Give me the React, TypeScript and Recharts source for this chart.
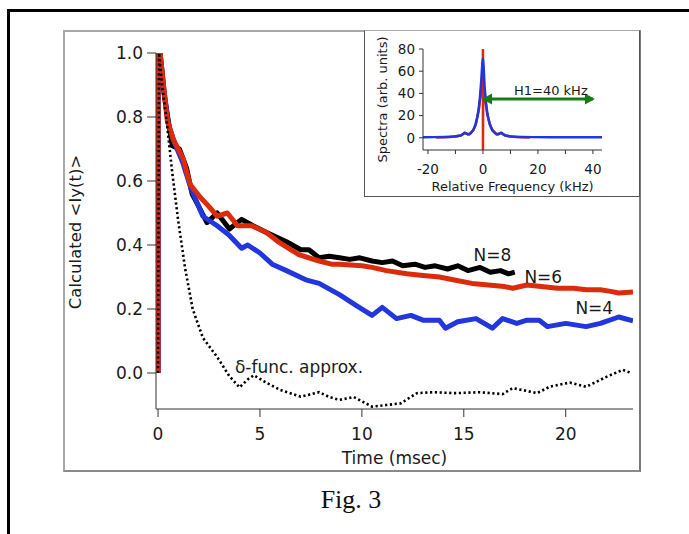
import React from 'react'
import { LineChart, Line, XAxis, YAxis, ReferenceDot, Label } from 'recharts'

const SANS = '"DejaVu Sans", Verdana, sans-serif'
const INK = '#1a1a1a'
const AXIS = '#333'
const RED = '#dc2a0c'
const BLUE = '#2136dc'
const GREEN = '#167c16'

// main panel, time in msec
const n8Time = [0, 0, 0.1, 0.3, 0.45, 0.7, 1.05, 1.4, 1.67, 2.0, 2.4, 2.9, 3.5, 4.1, 4.66, 5.3, 6.3, 7.0, 7.4, 7.9, 8.4, 8.9, 9.4, 9.9, 10.5, 11.0, 11.5, 12.0, 12.6, 13.1, 13.6, 14.2, 14.7, 15.2, 15.8, 16.3, 16.8, 17.2, 17.5]
const n8Vals = [0, 1.0, 1.0, 0.87, 0.81, 0.71, 0.7, 0.64, 0.56, 0.52, 0.47, 0.5, 0.45, 0.48, 0.46, 0.44, 0.41, 0.385, 0.385, 0.36, 0.365, 0.36, 0.355, 0.36, 0.35, 0.345, 0.35, 0.335, 0.34, 0.33, 0.335, 0.325, 0.335, 0.32, 0.33, 0.315, 0.32, 0.31, 0.315]

const n6Time = [0, 0, 0.1, 0.25, 0.45, 0.75, 1.23, 1.57, 2.06, 2.5, 2.9, 3.4, 3.9, 4.6, 5.3, 5.9, 6.9, 7.9, 8.5, 8.9, 10.0, 10.5, 11.2, 12.2, 13.0, 13.8, 14.6, 15.4, 16.2, 17.0, 17.4, 18.1, 18.8, 19.6, 20.4, 21.0, 21.7, 22.2, 22.6, 23.3]
const n6Vals = [0, 1.0, 1.0, 0.91, 0.79, 0.73, 0.67, 0.59, 0.55, 0.52, 0.49, 0.5, 0.46, 0.46, 0.44, 0.41, 0.37, 0.35, 0.34, 0.34, 0.335, 0.33, 0.32, 0.31, 0.305, 0.3, 0.29, 0.28, 0.275, 0.27, 0.265, 0.275, 0.27, 0.265, 0.265, 0.26, 0.26, 0.255, 0.25, 0.253]

const n4Time = [0, 0, 0.1, 0.3, 0.5, 0.8, 1.2, 1.6, 2.2, 2.9, 3.5, 4.1, 4.4, 5.0, 5.6, 6.3, 7.3, 7.9, 8.9, 9.75, 10.5, 11.0, 11.7, 12.4, 13.0, 13.8, 14.1, 14.7, 15.6, 16.4, 16.9, 17.6, 18.1, 18.7, 19.1, 20.0, 21.0, 21.7, 22.6, 23.3]
const n4Vals = [0, 1.0, 1.0, 0.88, 0.78, 0.72, 0.66, 0.58, 0.49, 0.46, 0.43, 0.39, 0.4, 0.375, 0.34, 0.32, 0.29, 0.28, 0.245, 0.21, 0.18, 0.205, 0.17, 0.18, 0.165, 0.165, 0.14, 0.16, 0.17, 0.14, 0.17, 0.155, 0.165, 0.165, 0.145, 0.155, 0.145, 0.155, 0.175, 0.163]

const deltaTime = [0, 0.05, 0.2, 0.4, 0.69, 0.98, 1.32, 1.7, 2.2, 2.9, 3.5, 4.0, 4.4, 4.7, 5.3, 6.0, 7.0, 7.9, 8.4, 8.9, 9.6, 10.5, 11.2, 11.9, 12.7, 13.5, 14.6, 15.8, 16.9, 17.4, 18.6, 19.2, 20.2, 21.0, 22.0, 22.8, 23.2]
const deltaVals = [0, 1.0, 0.9, 0.8, 0.63, 0.48, 0.33, 0.2, 0.11, 0.05, -0.01, -0.045, -0.02, -0.007, -0.03, -0.053, -0.074, -0.06, -0.075, -0.084, -0.075, -0.105, -0.1, -0.095, -0.063, -0.06, -0.063, -0.06, -0.066, -0.047, -0.063, -0.043, -0.03, -0.043, -0.012, 0.01, 0.0]

const timeTicks = [0, 5, 10, 15, 20]
const iyTicks = [0, 0.2, 0.4, 0.6, 0.8, 1.0]

// inset, relative frequency in kHz
const blueFreq = [-21.8, -18, -14, -10, -8.5, -7.5, -6.8, -6.2, -5.5, -4.5, -3.5, -2.8, -2.2, -1.6, -1.1, -0.6, -0.25, 0, 0.25, 0.6, 1.1, 1.6, 2.2, 2.8, 3.5, 4.5, 5.5, 6.2, 6.8, 7.5, 8.5, 10, 14, 18, 25, 35, 43.3]
const blueSpec = [0.5, 0.6, 0.8, 1.2, 1.8, 2.8, 4.5, 4, 3, 4, 7, 11, 17, 25, 36, 52, 66, 71, 64, 46, 32, 22, 15, 10, 6.5, 4, 3, 4, 4.5, 3, 1.8, 1.2, 0.8, 0.6, 0.5, 0.5, 0.5]

const redFreq = [-17, -12, -8, -6.5, -5, -3.5, -2.5, -1.5, -0.8, -0.4, -0.1, 0, 0, 0.05, 0.1, 0.4, 0.8, 1.5, 2.5, 3.5, 5, 6.5, 8, 12, 17]
const redSpec = [0.3, 0.8, 2, 4.5, 3, 7, 13, 25, 40, 47, 47, 80, -11, 15, 47, 45, 35, 22, 12, 7, 3, 4.5, 2, 0.8, 0.3]

const arrowFreq = [0.4, 40]
const arrowSpec = [35, 35]

const freqTicks = [-20, -10, 0, 10, 20, 30, 40]
const specTicks = [0, 20, 40, 60, 80]

const tv = (t: number[], v: number[]) => t.map((x, i) => ({ t: x, v: v[i] }))
const fs = (f: number[], s: number[]) => f.map((x, i) => ({ f: x, s: s[i] }))

function ArrowHead(props: any) {
  const { cx, cy, index } = props
  if (cx == null || cy == null) return null
  const d = index === 0 ? -1 : 1
  return (
    <path
      key={`ah-${index}`}
      d={`M${cx + d * 2},${cy} L${cx - d * 8},${cy - 5.5} L${cx - d * 8},${cy + 5.5} Z`}
      fill={GREEN}
    />
  )
}

function SideLabel({ viewBox, text, dx, dy, size }: any) {
  const x = viewBox.x + dx
  const y = viewBox.y + viewBox.height / 2 + dy
  return (
    <text
      x={x}
      y={y}
      transform={`rotate(-90 ${x} ${y})`}
      textAnchor="middle"
      dominantBaseline="central"
      fill={INK}
      fontSize={size}
      fontFamily={SANS}
    >
      {text}
    </text>
  )
}

function Inset() {
  const tick = { fill: INK, fontSize: 13.5, fontFamily: SANS }
  return (
    <LineChart width={275} height={166} margin={{ top: 19, right: 37, bottom: 16, left: 0 }}>
      <XAxis
        type="number"
        dataKey="f"
        domain={[-21.8, 43.3]}
        allowDataOverflow
        ticks={freqTicks}
        interval={0}
        tickFormatter={(v: number) => (v % 20 === 0 ? String(v) : '')}
        height={30}
        tickSize={4}
        tickMargin={10}
        axisLine={{ stroke: AXIS }}
        tickLine={{ stroke: AXIS }}
        tick={tick}
      >
        <Label
          value="Relative Frequency (kHz)"
          position="bottom"
          offset={2}
          fill={INK}
          fontSize={13}
          fontFamily={SANS}
        />
      </XAxis>
      <YAxis
        type="number"
        domain={[-11, 80]}
        allowDataOverflow
        ticks={specTicks}
        interval={0}
        width={59}
        tickSize={4}
        tickMargin={4}
        axisLine={{ stroke: AXIS }}
        tickLine={{ stroke: AXIS }}
        tick={tick}
      >
        <Label content={(p: any) => <SideLabel {...p} text="Spectra (arb. units)" dx={18} dy={0} size={13} />} />
      </YAxis>
      <Line data={fs(redFreq, redSpec)} dataKey="s" type="linear" stroke={RED} strokeWidth={2.5} dot={false} isAnimationActive={false} />
      <Line data={fs(blueFreq, blueSpec)} dataKey="s" type="linear" stroke={BLUE} strokeWidth={2.5} dot={false} isAnimationActive={false} strokeLinejoin="round" />
      <Line data={fs(arrowFreq, arrowSpec)} dataKey="s" type="linear" stroke={GREEN} strokeWidth={3} dot={<ArrowHead />} isAnimationActive={false} />
      <ReferenceDot x={24.7} y={43} r={0} fill="none" stroke="none">
        <Label value="H1=40 kHz" position="center" fill={INK} fontSize={13} fontFamily={SANS} />
      </ReferenceDot>
    </LineChart>
  )
}

export default function App() {
  const tick = { fill: INK, fontSize: 17, fontFamily: SANS }
  const thick = { type: 'linear' as const, strokeWidth: 5, dot: false, isAnimationActive: false, strokeLinejoin: 'round' as const }
  return (
    <div style={{ position: 'absolute', left: 0, top: 0, width: 689, height: 534, background: '#fff', overflow: 'hidden' }}>
      <div style={{ position: 'absolute', left: 7, top: 9, width: 720, height: 560, border: '3px solid #000' }} />
      <div
        style={{
          position: 'absolute',
          left: 63,
          top: 30,
          width: 574,
          height: 438,
          border: '2px solid #a8a8a8',
          borderRightColor: '#7a7a7a',
          borderBottomColor: '#8a8a8a',
        }}
      />
      <div style={{ position: 'absolute', left: 0, top: 0 }}>
        <LineChart width={689} height={534} margin={{ top: 53, right: 56, bottom: 95, left: 0 }}>
          <XAxis
            type="number"
            dataKey="t"
            domain={[-0.1, 23.3]}
            allowDataOverflow
            ticks={timeTicks}
            interval={0}
            height={30}
            tickSize={8}
            tickMargin={11}
            axisLine={{ stroke: AXIS }}
            tickLine={{ stroke: AXIS }}
            tick={tick}
          >
            <Label value="Time (msec)" position="bottom" offset={13} fill={INK} fontSize={17} fontFamily={SANS} />
          </XAxis>
          <YAxis
            type="number"
            domain={[-0.1125, 1.0]}
            allowDataOverflow
            ticks={iyTicks}
            interval={0}
            width={156}
            tickSize={9}
            tickMargin={4}
            tickFormatter={(v: number) => v.toFixed(1)}
            axisLine={{ stroke: AXIS }}
            tickLine={{ stroke: AXIS }}
            tick={tick}
          >
            <Label content={(p: any) => <SideLabel {...p} text="Calculated <Iy(t)>" dx={75} dy={1} size={16.5} />} />
          </YAxis>
          <Line data={tv(n8Time, n8Vals)} dataKey="v" stroke="#000" {...thick} />
          <Line data={tv(n4Time, n4Vals)} dataKey="v" stroke={BLUE} {...thick} />
          <Line data={tv(n6Time, n6Vals)} dataKey="v" stroke={RED} {...thick} />
          <Line
            data={tv(deltaTime, deltaVals)}
            dataKey="v"
            type="linear"
            stroke="#000"
            strokeWidth={2.6}
            strokeDasharray="2.2 2.6"
            dot={false}
            isAnimationActive={false}
          />
          <ReferenceDot x={16.4} y={0.369} r={0} fill="none" stroke="none">
            <Label value="N=8" position="center" fill={INK} fontSize={17} fontFamily={SANS} />
          </ReferenceDot>
          <ReferenceDot x={18.9} y={0.3} r={0} fill="none" stroke="none">
            <Label value="N=6" position="center" fill={INK} fontSize={17} fontFamily={SANS} />
          </ReferenceDot>
          <ReferenceDot x={21.4} y={0.203} r={0} fill="none" stroke="none">
            <Label value="N=4" position="center" fill={INK} fontSize={17} fontFamily={SANS} />
          </ReferenceDot>
          <ReferenceDot x={3.77} y={0.019} r={0} fill="none" stroke="none">
            <Label value="δ-func. approx." position="right" offset={0} fill={INK} fontSize={17} fontFamily={SANS} />
          </ReferenceDot>
        </LineChart>
      </div>
      <div
        style={{
          position: 'absolute',
          left: 364,
          top: 30,
          width: 274,
          height: 165,
          border: '1px solid #555',
          borderTopColor: '#a8a8a8',
          background: '#fff',
        }}
      >
        <div style={{ position: 'absolute', left: -1, top: -1 }}>
          <Inset />
        </div>
      </div>
      <div
        style={{
          position: 'absolute',
          left: 0,
          width: 702,
          top: 485,
          textAlign: 'center',
          fontFamily: '"Liberation Serif", "Times New Roman", serif',
          fontSize: 26,
          color: '#111',
        }}
      >
        Fig. 3
      </div>
    </div>
  )
}
